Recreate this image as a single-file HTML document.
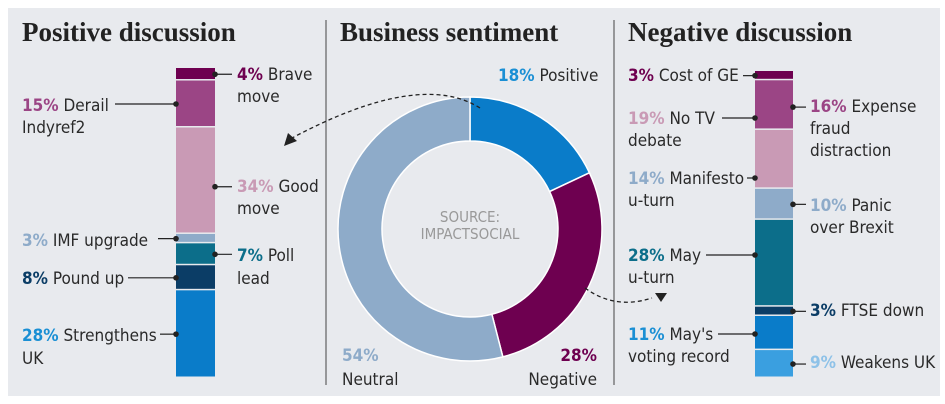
<!DOCTYPE html>
<html><head><meta charset="utf-8">
<style>
html,body{margin:0;padding:0;background:#fff;}
svg{display:block;}
.t{font-family:"Liberation Serif",serif;font-weight:bold;font-size:27px;fill:#222;}
.l{font-family:"DejaVu Sans Condensed","Liberation Sans",sans-serif;font-size:17px;fill:#2a2a2a;}
.p{font-weight:bold;}
</style></head>
<body>
<svg id="chart" width="945" height="404" viewBox="0 0 945 404" xmlns="http://www.w3.org/2000/svg">
<rect x="8" y="8" width="932" height="388" fill="#e8eaee"/>
<line x1="326" y1="20" x2="326" y2="385" stroke="#444" stroke-width="1"/>
<line x1="614" y1="20" x2="614" y2="385" stroke="#444" stroke-width="1"/>
<text class="t" x="22" y="41">Positive discussion</text>
<text class="t" x="340" y="41">Business sentiment</text>
<text class="t" x="628" y="41">Negative discussion</text>
<g id="leftbar"></g><g id="rightbar"></g><g id="donut"></g><g id="labels"></g>
<text class="l" x="470" y="222" text-anchor="middle" style="fill:#999;font-size:15px">SOURCE:</text>
<text class="l" x="470" y="239" text-anchor="middle" style="fill:#999;font-size:15px">IMPACTSOCIAL</text>
<path d="M480,108 Q420,70 292,138" fill="none" stroke="#222" stroke-width="1.3" stroke-dasharray="4,3"/>
<polygon points="284,146 288,133 297,141" fill="#222"/>
<path d="M585,288 Q615,310 652,298" fill="none" stroke="#222" stroke-width="1.3" stroke-dasharray="4,3"/>
<polygon points="655,293 667,293 661,302" fill="#222"/>
</svg>
<script>
const posValues=[4,15,34,3,7,8,28];
const posColors=["#6e0050","#9b4585","#c99ab5","#8eabc9","#0c6e8a","#0b3d66","#0a7cc9"];
const negValues=[3,16,19,10,28,3,11,9];
const negColors=["#6e0050","#9b4585","#c99ab5","#8eabc9","#0c6e8a","#0b3d66","#0a7cc9","#3a9fe0"];
const donutCats=["Positive","Negative","Neutral"];
const donutValues=[18,28,54];
const donutColors=["#0a7cc9","#6e0050","#8eabc9"];
const NS="http://www.w3.org/2000/svg";
function mk(tag,attrs,parent){const e=document.createElementNS(NS,tag);for(const k in attrs)e.setAttribute(k,attrs[k]);parent.appendChild(e);return e;}
function drawBar(g,vals,cols,x,w,top,bottom,prefix){
  const total=vals.reduce((a,b)=>a+b,0);const sc=(bottom-top)/total;let y=top;const mids=[];
  vals.forEach((v,i)=>{const h=v*sc;const r=mk('rect',{x:x,y:y,width:w,height:Math.max(h-1.5,0.5),fill:cols[i]},g);
    
    
    mids.push(y+h/2);y+=h;});
  return mids;}
const lm=drawBar(document.getElementById('leftbar'),posValues,posColors,176,39,68,378,'positive');
const rm=drawBar(document.getElementById('rightbar'),negValues,negColors,755,38,71,378,'negative');
const dg=document.getElementById('donut');const cx=470,cy=229,R=132,r=88;
const dt=donutValues.reduce((a,b)=>a+b,0);let a0=-Math.PI/2;
donutValues.forEach((v,i)=>{const a1=a0+v/dt*2*Math.PI;const lg=(a1-a0)>Math.PI?1:0;
  const p=(rad,a)=>[cx+rad*Math.cos(a),cy+rad*Math.sin(a)];
  const [x1,y1]=p(R,a0),[x2,y2]=p(R,a1),[x3,y3]=p(r,a1),[x4,y4]=p(r,a0);
  const s=mk('path',{d:`M${x1},${y1}A${R},${R} 0 ${lg} 1 ${x2},${y2}L${x3},${y3}A${r},${r} 0 ${lg} 0 ${x4},${y4}Z`,fill:donutColors[i],stroke:'#fff','stroke-width':1.5},dg);
  
  
  a0=a1;});
const lg=document.getElementById('labels');
function label(x,ys,pct,pcol,lines,anchor,name){
  const t=mk('text',{class:'l',x:x,y:ys[0],'text-anchor':anchor||'start'},lg);
  
  
  const s=mk('tspan',{class:'p',fill:pcol},t);s.textContent=pct;
  const s2=mk('tspan',{},t);s2.textContent=(pct?' ':'')+lines[0];
  for(let i=1;i<lines.length;i++){const s3=mk('tspan',{x:x,y:ys[i]},t);s3.textContent=lines[i];}}
function conn(x1,x2,y,dotx,name){
  const l=mk('line',{x1:x1,x2:x2,y1:y,y2:y,stroke:'#222','stroke-width':1.2},lg);
  
  
  const c=mk('circle',{cx:dotx,cy:y,r:2.8,fill:'#222'},lg);
  
  }
label(237,[80,102],posValues[0]+'%','#6e0050',['Brave','move'],null,'label-brave-move');conn(215,232,lm[0],215,'brave-move');
label(22,[111,133],posValues[1]+'%','#9b4585',['Derail','Indyref2'],null,'label-derail-indyref2');conn(115,176,lm[1],176,'derail');
label(237,[192,214],posValues[2]+'%','#c99ab5',['Good','move'],null,'label-good-move');conn(215,232,lm[2]+6,215,'good-move');
label(22,[246],posValues[3]+'%','#8eabc9',['IMF upgrade'],null,'label-imf-upgrade');conn(158,176,lm[3],176,'imf');
label(237,[261,284],posValues[4]+'%','#0c6e8a',['Poll','lead'],null,'label-poll-lead');conn(215,232,lm[4],215,'poll');
label(22,[284],posValues[5]+'%','#0b3d66',['Pound up'],null,'label-pound-up');conn(128,176,lm[5],176,'pound');
label(22,[341,364],posValues[6]+'%','#1a8fd4',['Strengthens','UK'],null,'label-strengthens-uk');conn(160,176,lm[6],176,'strengthens');
label(498,[81],donutValues[0]+'%','#1a8fd4',['Positive'],null,'label-positive');
label(342,[361,385],'','',[donutValues[2]+'%','Neutral'],null,'label-neutral');
lg.lastChild.firstChild.nextSibling.setAttribute('fill','#8eabc9');lg.lastChild.firstChild.nextSibling.setAttribute('font-weight','bold');
label(597,[361,385],'','',[donutValues[1]+'%','Negative'],'end','label-negative');
lg.lastChild.firstChild.nextSibling.setAttribute('fill','#6e0050');lg.lastChild.firstChild.nextSibling.setAttribute('font-weight','bold');
label(628,[81],negValues[0]+'%','#6e0050',['Cost of GE'],null,'label-cost-of-ge');conn(743,755,rm[0],755,'cost-ge');
label(628,[124,146],'19%','#c99ab5',['No TV','debate'],null,'label-no-tv-debate');conn(722,755,118,755,'no-tv');
label(810,[112,134,156],negValues[1]+'%','#9b4585',['Expense','fraud','distraction'],null,'label-expense-fraud');conn(793,806,rm[1]+2,793,'expense');
label(628,[184,206],'14%','#8eabc9',['Manifesto','u-turn'],null,'label-manifesto-uturn');conn(747,755,178,755,'manifesto');
label(810,[211,233],negValues[3]+'%','#8eabc9',['Panic','over Brexit'],null,'label-panic-brexit');conn(793,806,rm[3],793,'panic');
label(628,[261,283],negValues[4]+'%','#0c6e8a',['May','u-turn'],null,'label-may-uturn');conn(706,755,255,755,'may-uturn');
label(810,[316],negValues[5]+'%','#0b3d66',['FTSE down'],null,'label-ftse-down');conn(793,806,rm[5],793,'ftse');
label(628,[340,362],negValues[6]+'%','#1a8fd4',["May's",'voting record'],null,'label-may-voting');conn(718,755,334,755,'may-voting');
label(810,[368],negValues[7]+'%','#8ec2e8',['Weakens UK'],null,'label-weakens-uk');conn(793,806,rm[7],793,'weakens');
</script>
</body></html>
